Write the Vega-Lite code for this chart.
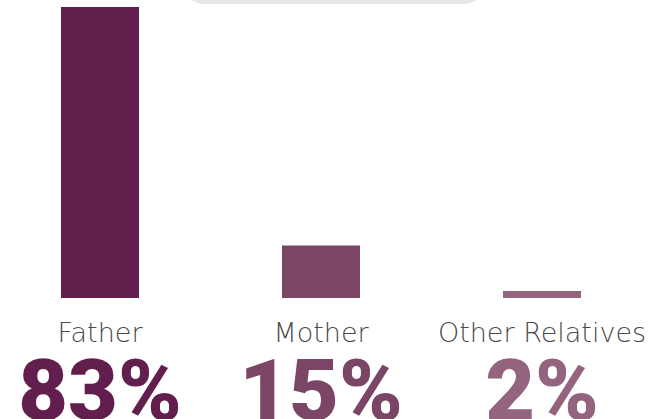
{
  "$schema": "https://vega.github.io/schema/vega-lite/v6.json",
  "autosize": {"type": "none"},
  "padding": {"left": 0, "top": 7, "right": 25, "bottom": 121},
  "background": "white",
  "config": {"view": {"stroke": null}},
  "width": 642,
  "height": 291,
  "data": {"values": [
    {"relation": "Father", "share": 83, "label": "83%"},
    {"relation": "Mother", "share": 15, "label": "15%"},
    {"relation": "Other Relatives", "share": 2, "label": "2%"}
  ]},
  "encoding": {
    "x": {"field": "relation", "type": "nominal", "sort": null,
          "scale": {"paddingInner": 0.647, "paddingOuter": 0.276},
          "axis": null},
    "color": {"field": "relation", "type": "nominal", "sort": null,
              "scale": {"domain": ["Father", "Mother", "Other Relatives"], "range": ["#621f4d", "#7b4566", "#94647f"]},
              "legend": {
                "title": null,
                "orient": "none",
                "direction": "horizontal",
                "legendX": 179,
                "legendY": -55,
                "fillColor": "#e6e7e7",
                "strokeColor": null,
                "cornerRadius": 27,
                "padding": 20,
                "columnPadding": 24,
                "symbolType": "circle",
                "symbolSize": 100,
                "labelFont": "DejaVu Sans",
                "labelFontSize": 12,
                "labelColor": "#4a4a4a"
              }}
  },
  "layer": [
    {
      "mark": {"type": "bar"},
      "encoding": {
        "y": {"field": "share", "type": "quantitative",
              "scale": {"domain": [0, 83], "nice": false, "zero": true},
              "axis": null}
      }
    },
    {
      "mark": {"type": "text", "baseline": "alphabetic", "align": "center", "dy": 44,
               "font": "DejaVu Sans", "fontWeight": 200, "fontSize": 27},
      "encoding": {
        "y": {"datum": 0, "type": "quantitative"},
        "text": {"field": "relation"},
        "color": {"value": "#4a4a4a"}
      }
    },
    {
      "mark": {"type": "text", "baseline": "alphabetic", "align": "center", "dy": 122,
               "font": "Roboto", "fontWeight": 900, "fontSize": 86},
      "encoding": {
        "y": {"datum": 0, "type": "quantitative"},
        "text": {"field": "label"}
      }
    }
  ]
}
